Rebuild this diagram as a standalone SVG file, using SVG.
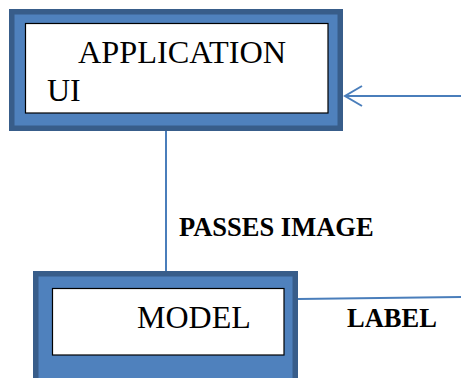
<svg xmlns="http://www.w3.org/2000/svg" width="461" height="378" viewBox="0 0 461 378">
<style>
.outer{fill:#4F81BD;stroke:#385D8A;stroke-width:5.5}
.inner{fill:#FFFFFF;stroke:#000000;stroke-width:1.2}
.lbl{font-family:"Liberation Serif","Times New Roman",serif;font-size:32px;fill:#000}
.bold{font-family:"Liberation Serif","Times New Roman",serif;font-size:26.5px;font-weight:bold;fill:#000}
.conn{fill:none;stroke:#4A7EBB;stroke-width:2}
</style>
<g id="connectors">
<line class="conn" x1="166" y1="131" x2="166" y2="271"/>
<line class="conn" x1="461" y1="96" x2="345" y2="96"/>
<polyline class="conn" points="362,86 345,96 362,106"/>
<line class="conn" x1="298" y1="299" x2="461" y2="297"/>
<text class="bold" x="179" y="236">PASSES IMAGE</text>
<text class="bold" x="347" y="327">LABEL</text>
</g>
<g id="application-ui">
<rect class="outer" x="11.75" y="11.75" width="328.5" height="116.5"/>
<rect class="inner" x="25.5" y="23.5" width="302.5" height="89.5"/>
<text class="lbl" x="78" y="63" textLength="208" lengthAdjust="spacingAndGlyphs">APPLICATION</text>
<text class="lbl" x="47" y="101">UI</text>
</g>
<g id="model">
<rect class="outer" x="35.75" y="273.75" width="259.5" height="120"/>
<rect class="inner" x="52.5" y="288.5" width="231.5" height="66.5"/>
<text class="lbl" x="137" y="328">MODEL</text>
</g>
</svg>
